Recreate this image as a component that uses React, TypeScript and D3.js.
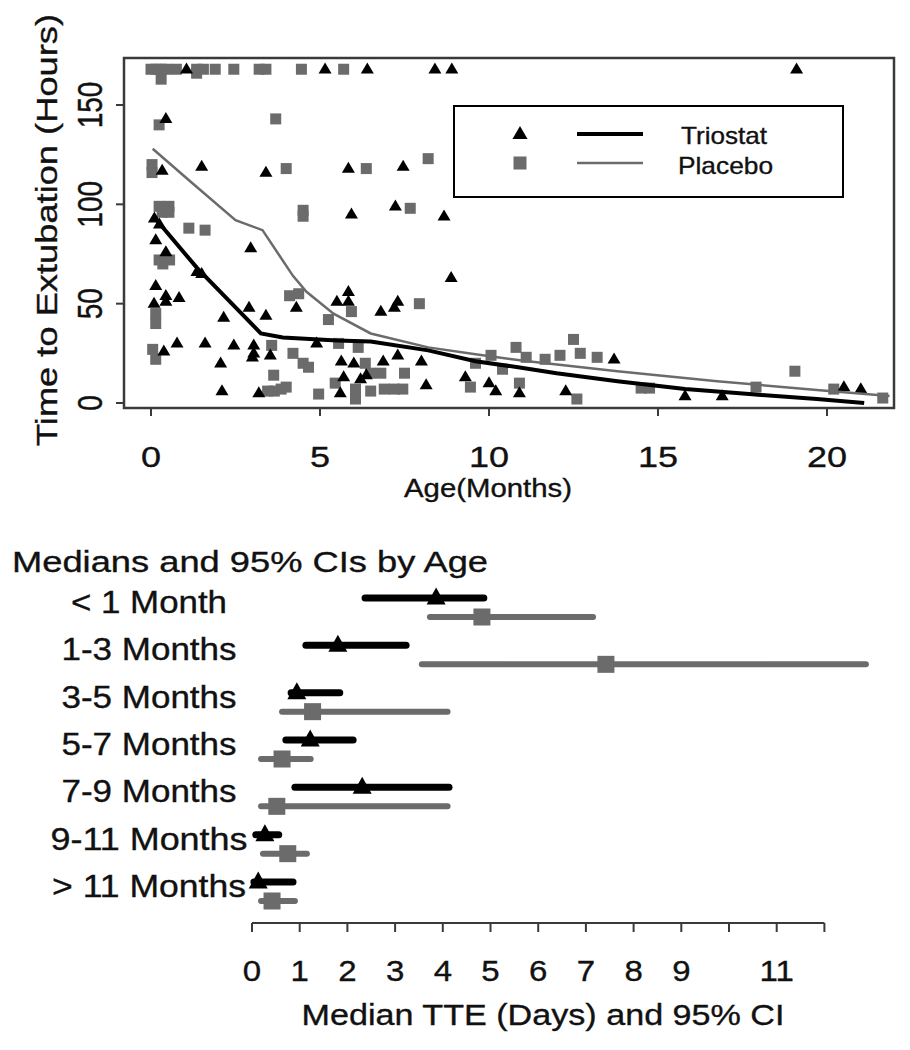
import React from "react";
import * as d3 from "d3";

// ---------- Top scatter data (Age in months, Time to extubation in hours) ----------
const triostatAge = [
  1.05, 5.15, 6.4, 8.4, 8.9, 19.1,
  0.44, 0.33, 1.5, 3.4, 5.84, 7.46,
  5.93, 7.23, 8.67,
  0.1, 0.25, 0.14, 0.44, 2.95, 1.36, 1.5,
  0.14, 0.44, 0.83, 0.09, 0.44,
  2.15, 2.9, 3.4, 4.3, 5.5, 5.84, 5.84, 6.8, 7.2, 7.3, 8.88,
  0.38, 0.77, 1.6, 2.45, 3.04, 3.04, 3.0, 3.53, 2.06, 2.1, 3.19, 4.9,
  5.63, 6.0, 6.87, 7.3, 8.0, 5.7, 6.2, 6.37, 5.6, 8.14, 9.3, 10.0, 10.2, 10.9,
  12.27, 13.7, 15.8, 16.9, 20.5, 21.0,
];
const triostatHours = [
  168, 168, 168, 168, 168, 168,
  143, 117, 119, 116, 118, 119,
  95, 99, 94,
  93, 90, 82, 76, 78, 66, 65,
  59, 54, 53, 50, 51,
  43, 48, 44, 48, 51, 51, 56, 46, 48, 51, 63,
  26, 30, 30, 29, 29, 25, 23, 24, 20, 6, 5, 30,
  21, 20, 21, 24, 21, 13, 12, 14, 5, 9, 13, 10, 6, 5,
  6, 22, 3.5, 3.5, 8, 7,
];
const placeboAge = [
  0.0, 0.15, 0.3, 0.45, 0.75, 1.35, 1.55, 1.9, 2.45, 3.2, 3.4, 4.45, 5.7, 0.3, 1.35,
  0.24, 3.69,
  0.03, 0.03, 4.0, 6.37, 8.2,
  0.24, 0.53, 0.33, 0.53, 4.5, 4.5, 7.67, 1.12, 1.6,
  0.24, 0.55, 0.35,
  4.1, 4.37, 5.25, 5.93, 7.94, 0.14, 0.14,
  0.05, 0.14, 3.57, 4.2, 4.5, 4.66, 3.63,
  3.45, 3.65, 3.85, 4.0, 4.96, 5.45, 6.05, 6.05,
  5.55, 6.13, 6.34, 6.5, 6.8, 7.5, 6.9, 6.5, 7.2, 7.45,
  9.6, 10.4, 10.8, 10.06, 10.9, 9.45,
  11.1, 11.66, 12.1, 12.5, 12.7, 13.2, 12.6,
  14.5, 14.75, 17.9, 19.05, 20.2, 21.65,
];
const placeboHours = [
  168, 168, 168, 168, 168, 168, 168, 168, 168, 168, 168, 168, 168, 163, 166,
  140, 143,
  120, 116, 118, 118, 123,
  99, 99, 96, 96, 97, 94, 98, 88, 87,
  72, 72, 70,
  54, 55, 42, 46, 50, 45, 40,
  27, 22, 29, 25, 20, 18, 14,
  6, 6, 7, 8, 4.5, 10, 7, 2,
  30, 28, 20, 15, 15, 15, 7, 6, 7, 7,
  20, 17, 28, 24, 10, 8,
  23, 22, 24, 32, 25, 23, 2,
  7.5, 7.5, 8, 16, 7, 2.5,
];

// smoothed curves
const triostatLineAge = [0.12, 1.36, 3.25, 3.9, 5.5, 6.5, 8.2, 9.6, 10.86, 12.0, 13.8, 15.8, 17.7, 19.7, 21.1];
const triostatLineHours = [93, 68, 35, 33, 31.5, 31, 26.5, 21, 18, 15, 11, 7, 4.5, 2, 0];
const placeboLineAge = [0.05, 1.2, 2.5, 3.3, 4.2, 4.6, 5.4, 6.5, 8.2, 9.6, 11.15, 13.8, 16.75, 19.7, 21.85];
const placeboLineHours = [128, 111, 92, 87, 64, 56, 45, 35, 28, 24.5, 21, 16, 11, 6.5, 3.5];

const xTicksTop = [0, 5, 10, 15, 20];
const yTicksTop = [0, 50, 100, 150];

// ---------- Bottom forest data (days) ----------
const ageGroups = ["< 1 Month", "1-3 Months", "3-5 Months", "5-7 Months", "7-9 Months", "9-11 Months", "> 11 Months"];
const ageGroupLabelWidths = [156, 175, 175, 175, 175, 197, 194];
const triMedian = [3.86, 1.8, 0.94, 1.22, 2.31, 0.27, 0.13];
const triLow = [2.37, 1.13, 0.82, 0.71, 0.9, 0.08, 0.04];
const triHigh = [4.86, 3.23, 1.84, 2.12, 4.13, 0.56, 0.86];
const plaMedian = [4.82, 7.42, 1.27, 0.63, 0.52, 0.75, 0.42];
const plaLow = [3.73, 3.56, 0.63, 0.19, 0.19, 0.23, 0.19];
const plaHigh = [7.15, 12.87, 4.1, 1.23, 4.1, 1.15, 0.9];
const forestTicks = [0, 1, 2, 3, 4, 5, 6, 7, 8, 9, 10, 11, 12];
const forestTickLabels = [0, 1, 2, 3, 4, 5, 6, 7, 8, 9, 11];

const GRAY = "#6b6b6b";
const FONT = "'Liberation Sans', Arial, sans-serif";

function triPath(cx: number, cy: number, w: number, h: number) {
  return `M${cx},${cy - h * 0.62}L${cx + w / 2},${cy + h * 0.38}L${cx - w / 2},${cy + h * 0.38}Z`;
}

function SText(props: {
  x: number; y: number; size: number; anchor?: string; rotate?: boolean; sx?: number;
  len?: number; children: React.ReactNode;
}) {
  const { x, y, size, anchor = "middle", rotate = false, sx = 1.15, len, children } = props;
  const s = len ? 1 : sx;
  const t = rotate
    ? `translate(${x},${y}) scale(${s},1) rotate(-90)`
    : `translate(${x},${y}) scale(${s},1)`;
  return (
    <text
      transform={t}
      textAnchor={anchor}
      fontSize={size}
      fontFamily={FONT}
      fill="#111"
      stroke="#111"
      strokeWidth={0.35}
      {...(len ? { textLength: len, lengthAdjust: "spacingAndGlyphs" } : {})}
    >
      {children}
    </text>
  );
}

export default function App() {
  // top plot geometry
  const box = { l: 124, r: 894, t: 58, b: 408 };
  const x = d3.scaleLinear().domain([0, 20]).range([151, 827]);
  const y = d3.scaleLinear().domain([0, 150]).range([403, 105]);

  const line = d3
    .line<[number, number]>()
    .x((d) => x(d[0]))
    .y((d) => y(d[1]));

  const triLineData = triostatLineAge.map((a, i) => [a, triostatLineHours[i]] as [number, number]);
  const plaLineData = placeboLineAge.map((a, i) => [a, placeboLineHours[i]] as [number, number]);

  // forest geometry
  const fx = d3.scaleLinear().domain([0, 12]).range([252, 824.4]);
  const rowY = d3.scaleLinear().domain([0, 6]).range([598, 882]);
  const axisY = 923;

  return (
    <svg width={910} height={1050} style={{ display: "block", position: "absolute", left: 0, top: 0, background: "#fff" }}>
      <rect x={0} y={0} width={910} height={1050} fill="#fff" />

      {/* ---------- TOP PLOT ---------- */}
      {placeboAge.map((a, i) => (
        <rect key={"p" + i} x={x(a) - 5.5} y={y(placeboHours[i]) - 5.5} width={11} height={11} fill={GRAY} />
      ))}
      {triostatAge.map((a, i) => (
        <path key={"t" + i} d={triPath(x(a), y(triostatHours[i]), 13, 11)} fill="#000" />
      ))}
      <path d={line(plaLineData) || ""} fill="none" stroke={GRAY} strokeWidth={2.5} />
      <path d={line(triLineData) || ""} fill="none" stroke="#000" strokeWidth={4} />

      <rect x={box.l} y={box.t} width={box.r - box.l} height={box.b - box.t} fill="none" stroke="#3a3a3a" strokeWidth={2.5} />

      {xTicksTop.map((t) => (
        <g key={"xt" + t}>
          <line x1={x(t)} x2={x(t)} y1={box.b} y2={box.b + 8} stroke="#3a3a3a" strokeWidth={2} />
          <SText x={x(t)} y={467} size={30} sx={1.2}>{t}</SText>
        </g>
      ))}
      <SText x={488} y={497} size={25} len={168}>Age(Months)</SText>

      {yTicksTop.map((t) => (
        <g key={"yt" + t}>
          <line x1={box.l - 8} x2={box.l} y1={y(t)} y2={y(t)} stroke="#3a3a3a" strokeWidth={2} />
          <SText x={102} y={y(t)} size={28} sx={1.25} rotate>{t}</SText>
        </g>
      ))}
      <SText x={57} y={230} size={30} rotate len={432}>Time to Extubation (Hours)</SText>

      {/* legend */}
      <rect x={454} y={106} width={389} height={91} fill="#fff" stroke="#000" strokeWidth={2} />
      <path d={triPath(520, 134, 15, 13)} fill="#000" />
      <rect x={513.5} y={156.5} width={13} height={13} fill={GRAY} />
      <line x1={577} x2={643} y1={134} y2={134} stroke="#000" strokeWidth={4} />
      <line x1={577} x2={643} y1={163} y2={163} stroke={GRAY} strokeWidth={2.5} />
      <SText x={681} y={144} size={24} anchor="start" len={86}>Triostat</SText>
      <SText x={678} y={174} size={24} anchor="start" len={95}>Placebo</SText>

      {/* ---------- BOTTOM FOREST PLOT ---------- */}
      <SText x={12} y={572} size={30} anchor="start" len={476}>Medians and 95% CIs by Age</SText>

      {ageGroups.map((g, i) => {
        const ty = rowY(i);
        const py = ty + 19;
        return (
          <g key={"g" + i}>
            <SText x={149} y={ty + 15} size={31} len={ageGroupLabelWidths[i]}>{g}</SText>
            <line x1={fx(triLow[i])} x2={fx(triHigh[i])} y1={ty} y2={ty} stroke="#000" strokeWidth={7} strokeLinecap="round" />
            <path d={triPath(fx(triMedian[i]), ty, 19, 17)} fill="#000" />
            <line x1={fx(plaLow[i])} x2={fx(plaHigh[i])} y1={py} y2={py} stroke={GRAY} strokeWidth={6} strokeLinecap="round" />
            <rect x={fx(plaMedian[i]) - 8.5} y={py - 8.5} width={17} height={17} fill={GRAY} />
          </g>
        );
      })}

      <line x1={fx(0)} x2={fx(12)} y1={axisY} y2={axisY} stroke="#3a3a3a" strokeWidth={2} />
      {forestTicks.map((t) => (
        <line key={"ft" + t} x1={fx(t)} x2={fx(t)} y1={axisY} y2={axisY + 9} stroke="#3a3a3a" strokeWidth={2} />
      ))}
      {forestTickLabels.map((t) => (
        <SText key={"fl" + t} x={fx(t)} y={981} size={30} sx={1.1}>{t}</SText>
      ))}
      <SText x={543} y={1025} size={30} len={483}>Median TTE (Days) and 95% CI</SText>
    </svg>
  );
}
